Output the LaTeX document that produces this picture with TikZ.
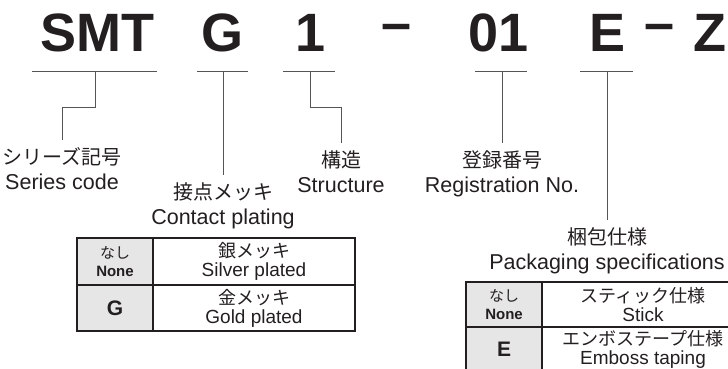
\documentclass[tikz,border=0pt]{standalone}
\usepackage{fontspec}
\setmainfont{Liberation Sans}
\newfontfamily\jp{Noto Sans CJK JP}
\usetikzlibrary{positioning}

\definecolor{ink}{HTML}{231F20}
\definecolor{leadgray}{HTML}{555555}
\definecolor{keyfill}{HTML}{E6E6E6}

\tikzset{
  code/.style={anchor=base, inner sep=0pt, text=ink, font=\fontsize{54}{54}\selectfont\bfseries},
  bar/.style={draw=leadgray, line width=0.9pt},
  lead/.style={draw=leadgray, line width=0.9pt},
  tag/.style={anchor=north, align=center, inner xsep=0pt, inner ysep=7pt, text=ink, font=\fontsize{21.5}{25}\selectfont},
  cell/.style={draw=ink, line width=1.1pt, inner sep=0pt, outer sep=0pt, align=center, text=ink},
  keycell/.style={cell, fill=keyfill, minimum width=76pt, font=\fontsize{15}{18.5}\selectfont},
  desccell/.style={cell, minimum width=202pt, font=\fontsize{19}{19}\selectfont},
}

\begin{document}
\begin{tikzpicture}[x=1pt, y=-1pt]
  \useasboundingbox (0,0) rectangle (728,369);
  \clip (0,0) rectangle (728,369);

  % part number
  \node[code] (smt) at (97,52) {SMT};
  \node[code] (gcode) at (222,52) {G};
  \node[code] (num) at (311,52) {1};
  \node[code] (dashone) at (397,41.5) {–};
  \node[code] (reg) at (498.5,52) {01};
  \node[code] (pack) at (607.5,52) {E};
  \node[code] (dashtwo) at (660,41.5) {–};
  \node[code] (zcode) at (710,52) {Z};

  % underlines
  \coordinate (smtbar) at (95,71.5);
  \coordinate (gbar) at (223,71.5);
  \coordinate (numbar) at (310,71.5);
  \coordinate (regbar) at (502,71.5);
  \coordinate (packbar) at (607,71.5);

  \draw[bar] ([xshift=-63pt]smtbar) -- ([xshift=62pt]smtbar);
  \draw[bar] ([xshift=-26pt]gbar) -- ([xshift=25pt]gbar);
  \draw[bar] ([xshift=-27pt]numbar) -- ([xshift=25pt]numbar);
  \draw[bar] ([xshift=-27pt]regbar) -- ([xshift=25pt]regbar);
  \draw[bar] ([xshift=-27pt]packbar) -- ([xshift=26pt]packbar);

  % labels
  \node[tag] (series) at (62,140) {{\jp\fontsize{20}{25}\selectfont シリーズ記号}\\Series code};
  \node[tag] (plating) at (223,175) {{\jp\fontsize{20}{25}\selectfont 接点メッキ}\\Contact plating};
  \node[tag] (struct) at (341,143) {{\jp\fontsize{20}{25}\selectfont 構造}\\Structure};
  \node[tag] (regno) at (502,143) {{\jp\fontsize{20}{25}\selectfont 登録番号}\\Registration No.};
  \node[tag] (packspec) at (607,220) {{\jp\fontsize{20}{25}\selectfont 梱包仕様}\\Packaging specifications};

  \draw[lead] (smtbar) -- ++(0,36) -| (series.north);
  \draw[lead] (gbar) -- (plating.north);
  \draw[lead] (numbar) -- ++(0,36) -| (struct.north);
  \draw[lead] (regbar) -- (regno.north);
  \draw[lead] (packbar) -- (packspec.north);

  % plating table
  \node[keycell, minimum height=47pt] (nonekey) at (115,261.5)
    {{\jp なし}\\\textbf{None}};
  \node[desccell, minimum height=47pt, right=0pt of nonekey] (silverdesc)
    {{\jp\fontsize{18}{19}\selectfont 銀メッキ}\\Silver plated};
  \node[keycell, minimum height=46pt, below=0pt of nonekey] (gkey)
    {\fontsize{21}{21}\selectfont\bfseries G};
  \node[desccell, minimum height=46pt, right=0pt of gkey] (golddesc)
    {{\jp\fontsize{18}{19}\selectfont 金メッキ}\\Gold plated};

  % packaging table
  \node[keycell, minimum height=45pt] (nonekeytwo) at (504,304.5)
    {{\jp なし}\\\textbf{None}};
  \node[desccell, minimum height=45pt, right=0pt of nonekeytwo] (stickdesc)
    {{\jp\fontsize{18}{19}\selectfont スティック仕様}\\Stick};
  \node[keycell, minimum height=45pt, below=0pt of nonekeytwo] (ekey)
    {\fontsize{21}{21}\selectfont\bfseries E};
  \node[desccell, minimum height=45pt, right=0pt of ekey] (embossdesc)
    {{\jp\fontsize{18}{19}\selectfont エンボステープ仕様}\\Emboss taping};
\end{tikzpicture}
\end{document}
